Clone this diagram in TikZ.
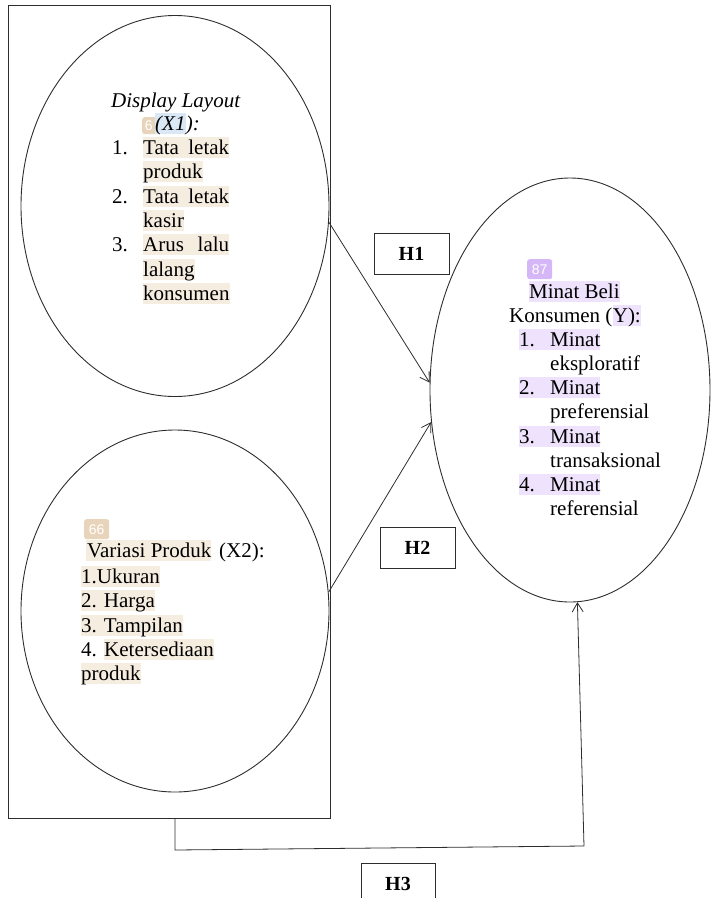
\documentclass[tikz,border=0pt]{standalone}
\usepackage{fontspec}
\setmainfont{Liberation Serif}
\newfontfamily\badgefont{Liberation Sans}
\usetikzlibrary{shapes.geometric,arrows.meta}
\definecolor{hlbeige}{RGB}{246,237,225}
\definecolor{bdbeige}{RGB}{231,212,186}
\definecolor{hlpurple}{RGB}{238,226,252}
\definecolor{bdpurple}{RGB}{213,183,247}
\definecolor{hlblue}{RGB}{218,232,246}
\definecolor{linec}{RGB}{45,45,45}
\newcommand\dtxt{\fontsize{21}{24}\selectfont}
\begin{document}
\begin{tikzpicture}[x=1pt,y=-1pt,
  every node/.style={font=\dtxt},
  ovalnode/.style={ellipse, draw=linec, line width=0.9pt, inner sep=0pt},
  framebox/.style={draw=linec, line width=0.9pt, inner sep=0pt, anchor=north west},
  hbox/.style={draw=linec, line width=0.9pt, minimum width=75pt, minimum height=41pt, inner sep=0pt, font=\bfseries\fontsize{20}{24}\selectfont},
  ln/.style={anchor=base west, inner sep=0pt, text height=17pt, text depth=4pt},
  hlb/.style={ln, fill=hlbeige},
  hlp/.style={ln, fill=hlpurple},
  badge/.style={anchor=north west, rounded corners=2.5pt, inner sep=0pt, text=white, font=\badgefont\fontsize{14}{14}\selectfont},
  conn/.style={draw=linec, line width=0.8pt, -{Straight Barb[length=9pt,width=11pt]}}
]
\useasboundingbox (0,0) rectangle (712,898);
\clip (0,0) rectangle (712,898);

% frame and ovals
\node[framebox, minimum width=322pt, minimum height=813pt] (frame) at (8,5) {};
\node[ovalnode, minimum width=308pt, minimum height=381pt] (x1) at (175,206) {};
\node[ovalnode, minimum width=308pt, minimum height=362pt] (x2) at (175,611) {};
\node[ovalnode, minimum width=280pt, minimum height=424pt] (y) at (570,390) {};

% hypothesis boxes
\node[hbox] (h1) at (411.5,253.5) {H1};
\node[hbox] (h2) at (417.5,548) {H2};
\node[hbox, minimum width=74pt, minimum height=42pt] (h3) at (398,884) {H3};

% connectors
\draw[conn] (x1.-6) -- (y.177);
\draw[conn] (x2.7) -- (y.193);
\coordinate (h3a) at (175,850);
\coordinate (h3b) at (584,846);
\draw[conn] (frame.south -| h3a) -- (h3a) -- (h3b) -- (y.-88);

% text X1
\node[ln, font=\itshape\dtxt] (t1) at (111,107) {Display Layout};
\node[badge, fill=bdbeige, minimum width=20pt, minimum height=17pt] (b6) at (142,117) {6\hspace*{7pt}};
\node[ln, fill=hlblue, font=\itshape\dtxt] (t2) at (155,130) {(X1};
\node[ln, font=\itshape\dtxt] (t2b) at (t2.base east) {):};
\node[ln] (n1) at (112,154) {1.};
\node[hlb] (i1) at (143,154) {\makebox[86pt][s]{Tata letak}};
\node[hlb] (i1b) at (143,178) {produk};
\node[ln] (n2) at (112,203) {2.};
\node[hlb] (i2) at (143,203) {\makebox[86pt][s]{Tata letak}};
\node[hlb] (i2b) at (143,227) {kasir};
\node[ln] (n3) at (112,251) {3.};
\node[hlb] (i3) at (143,251) {\makebox[86pt][s]{Arus lalu}};
\node[hlb] (i3b) at (143,276) {lalang};
\node[hlb] (i3c) at (143,300) {konsumen};

% text X2
\node[badge, fill=bdbeige, minimum width=25pt, minimum height=20pt] (b66) at (84,519) {66};
\node[hlb] (v1) at (86,557) {\hspace*{1pt}Variasi Produk};
\node[ln] (v1b) at (219,557) {(X2):};
\node[hlb] (v2) at (81,583) {1.Ukuran};
\node[hlb] (v3) at (81,607) {2. Harga};
\node[hlb] (v4) at (81,632) {3. Tampilan};
\node[ln] (v5n) at (81,656) {4.};
\node[hlb] (v5) at (104,656) {Ketersediaan};
\node[hlb] (v6) at (81,680) {produk};

% text Y
\node[badge, fill=bdpurple, minimum width=25pt, minimum height=20pt] (b87) at (527,259) {87};
\node[hlp] (y1) at (529,298) {Minat Beli};
\node[ln] (y2) at (509,322) {Konsumen (};
\node[hlp] (y2b) at (y2.base east) {Y):};
\node[hlp] (y3) at (519,346) {\makebox[31pt][l]{1.}Minat};
\node[ln] (y3b) at (550,370) {eksploratif};
\node[hlp] (y4) at (519,394) {\makebox[31pt][l]{2.}Minat};
\node[ln] (y4b) at (550,418) {preferensial};
\node[hlp] (y5) at (519,443) {\makebox[31pt][l]{3.}Minat};
\node[ln] (y5b) at (550,467) {transaksional};
\node[hlp] (y6) at (519,491) {\makebox[31pt][l]{4.}Minat};
\node[ln] (y6b) at (550,515) {referensial};
\end{tikzpicture}
\end{document}
